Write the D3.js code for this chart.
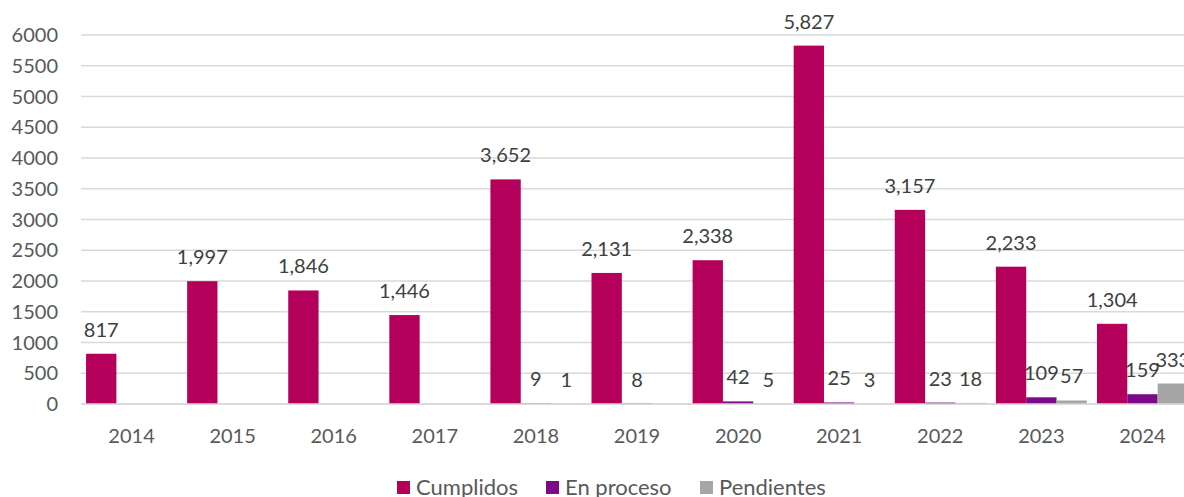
<!DOCTYPE html>
<html>
<head>
<meta charset="utf-8">
<script src="https://cdn.jsdelivr.net/npm/d3@7"></script>
<style>
  body { margin: 0; background: #fff; }
  svg { display: block; font-family: Lato, "Open Sans", sans-serif; }
</style>
</head>
<body>
<svg width="1184" height="497"></svg>
<script>
const years = ['2014','2015','2016','2017','2018','2019','2020','2021','2022','2023','2024'];
const cumplidos = [817, 1997, 1846, 1446, 3652, 2131, 2338, 5827, 3157, 2233, 1304];
const enProceso = [null, null, null, null, 9, 8, 42, 25, 23, 109, 159];
const pendientes = [null, null, null, null, 1, null, 5, 3, 18, 57, 333];
const seriesNames = ['Cumplidos', 'En proceso', 'Pendientes'];
const colors = ['#b5005b', '#7b0a89', '#a6a6a6'];
const yTicks = d3.range(0, 6001, 500);

const svg = d3.select('svg');
const margin = {left: 81, top: 35, bottom: 404};
const plotRight = 1193;

const x = d3.scaleBand().domain(years).range([margin.left, plotRight]).paddingInner(0.1).paddingOuter(0.05);
const xs = d3.scaleBand().domain(seriesNames).range([0, x.bandwidth()]);
const y = d3.scaleLinear().domain([0, 6000]).range([margin.bottom, margin.top]);

// gridlines
svg.append('g')
  .selectAll('line')
  .data(yTicks)
  .join('line')
  .attr('x1', margin.left)
  .attr('x2', plotRight)
  .attr('y1', d => y(d))
  .attr('y2', d => y(d))
  .attr('stroke', '#d9d9d9')
  .attr('stroke-width', 1.5);

// y labels
svg.append('g')
  .selectAll('text')
  .data(yTicks)
  .join('text')
  .attr('x', 58)
  .attr('y', d => y(d) + 7)
  .attr('text-anchor', 'end')
  .attr('font-size', 20)
  .attr('fill', '#595959')
  .text(d => d);

const series = [cumplidos, enProceso, pendientes];

const rows = [];
series.forEach((vals, si) => {
  vals.forEach((v, i) => {
    if (v !== null) rows.push({year: years[i], name: seriesNames[si], value: v, color: colors[si]});
  });
});

svg.append('g')
  .selectAll('rect')
  .data(rows)
  .join('rect')
  .attr('x', d => x(d.year) + xs(d.name))
  .attr('y', d => y(d.value))
  .attr('width', xs.bandwidth())
  .attr('height', d => y(0) - y(d.value))
  .attr('fill', d => d.color);

svg.append('g')
  .selectAll('text')
  .data(rows)
  .join('text')
  .attr('x', d => x(d.year) + xs(d.name) + xs.bandwidth() / 2)
  .attr('y', d => y(d.value) - 17)
  .attr('text-anchor', 'middle')
  .attr('font-size', 20)
  .attr('fill', '#404040')
  .text(d => d3.format(',')(d.value));

// axis line
svg.append('line')
  .attr('x1', margin.left)
  .attr('x2', plotRight)
  .attr('y1', y(0))
  .attr('y2', y(0))
  .attr('stroke', '#d9d9d9')
  .attr('stroke-width', 1.5);

// x labels
svg.append('g')
  .selectAll('text')
  .data(years)
  .join('text')
  .attr('x', d => x(d) + x.bandwidth() / 2)
  .attr('y', 443)
  .attr('text-anchor', 'middle')
  .attr('font-size', 20)
  .attr('fill', '#595959')
  .text(d => d);

// legend
const legendX = [397, 546, 700];
const legend = svg.append('g');
seriesNames.forEach((n, i) => {
  legend.append('rect')
    .attr('x', legendX[i])
    .attr('y', 481)
    .attr('width', 13)
    .attr('height', 13)
    .attr('fill', colors[i]);
  legend.append('text')
    .attr('x', legendX[i] + 19)
    .attr('y', 495)
    .attr('font-size', 22)
    .attr('fill', '#595959')
    .text(n);
});
</script>
</body>
</html>
